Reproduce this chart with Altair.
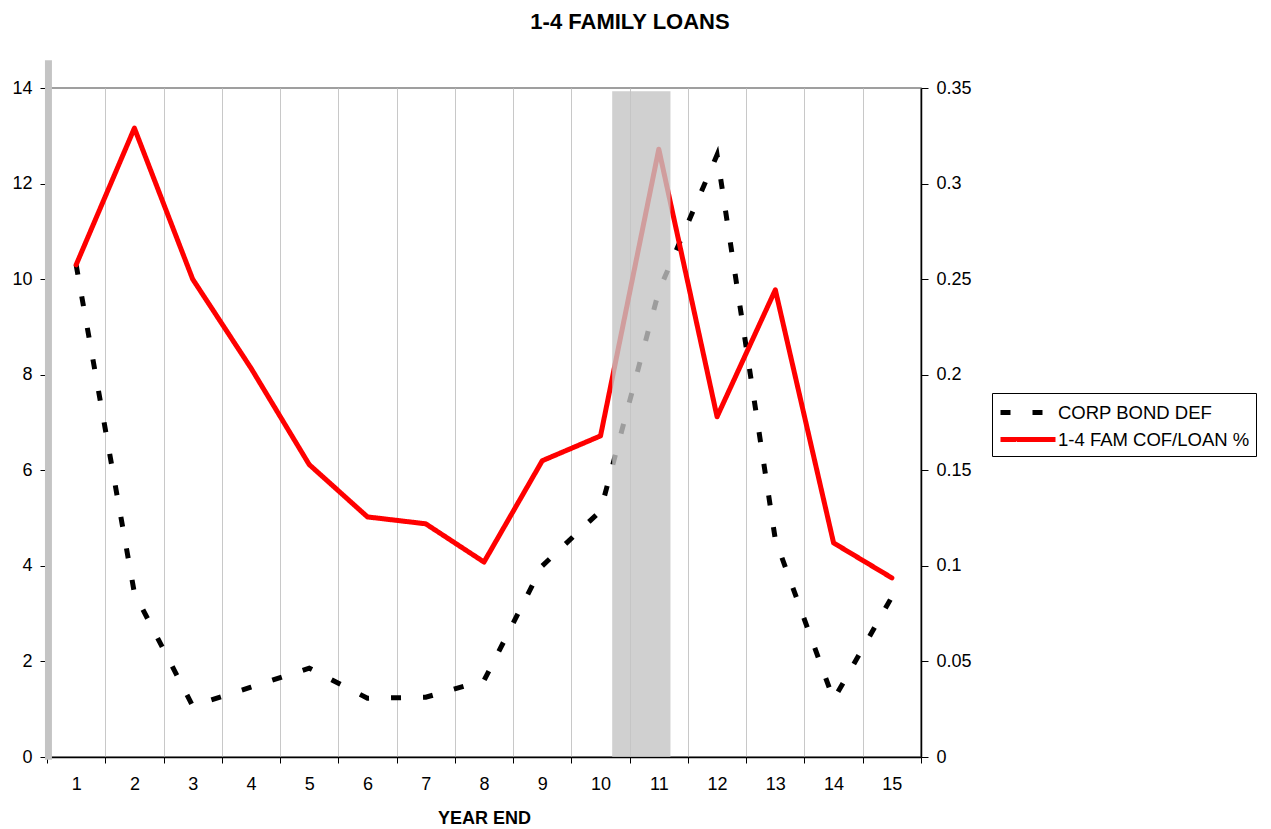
import altair as alt
import pandas as pd

# ---- data ----
years = list(range(1, 16))
corp_bond_def = [10.3, 3.43, 1.07, 1.46, 1.86, 1.23, 1.25, 1.6, 4.0, 5.15, 9.75, 12.6, 4.55, 1.2, 3.35]
fam_cof_loan = [0.2575, 0.329, 0.25, 0.2035, 0.153, 0.1256, 0.122, 0.102, 0.155, 0.168, 0.318, 0.178, 0.2444, 0.112, 0.0937]
series_names = ["CORP BOND DEF", "1-4 FAM COF/LOAN %"]
boundaries = [0.5 + i for i in range(16)]
left_ticks = [0, 2, 4, 6, 8, 10, 12, 14]
right_ticks = [0, 0.05, 0.1, 0.15, 0.2, 0.25, 0.3, 0.35]
shade = {"x1": [10.2], "x2": [11.2], "y1": [0.0], "y2": [13.93]}
stripe = {"x1": [0.465], "x2": [0.585], "y1": [-0.06], "y2": [14.58]}

FONT = "Liberation Sans"

df_black = pd.DataFrame({"year": years, "v": corp_bond_def, "series": series_names[0]})
df_red = pd.DataFrame({"year": years, "v": fam_cof_loan, "series": series_names[1]})
df_bounds = pd.DataFrame({"b": boundaries})
df_shade = pd.DataFrame(shade)
df_stripe = pd.DataFrame(stripe)

xscale = alt.Scale(domain=[0.5, 15.5], nice=False, zero=False)
lscale = alt.Scale(domain=[0, 14], nice=False, zero=False)
rscale = alt.Scale(domain=[0, 0.35], nice=False, zero=False)

color_scale = alt.Scale(domain=series_names, range=["black", "red"])
dash_scale = alt.Scale(domain=series_names, range=[[10, 22], [1, 0]])

legend = alt.Legend(
    orient="none", legendX=945, legendY=305, title=None,
    strokeColor="black", fillColor="white", padding=6,
    labelFont=FONT, labelFontSize=18.5, labelColor="black", labelLimit=400,
    symbolType="M-1,0H4", symbolSize=484, symbolStrokeWidth=5,
    labelOffset=33, rowPadding=3,
)

grid_layer = alt.Chart(df_bounds).mark_point(opacity=0).encode(
    x=alt.X("b:Q", scale=xscale, axis=alt.Axis(
        orient="bottom", values=boundaries, labels=False, ticks=True, tickSize=6,
        tickColor="black", grid=True, gridColor="#c8c8c8", gridWidth=1,
        domain=True, domainColor="black", domainWidth=1.5, title=None)),
)

black_line = alt.Chart(df_black).mark_line(strokeWidth=5, strokeCap="butt").encode(
    x=alt.X("year:Q", scale=xscale, axis=alt.Axis(
        orient="bottom", values=years, ticks=False, tickSize=0, grid=False, domain=False,
        labelFont=FONT, labelFontSize=18, labelColor="black", labelPadding=18,
        title="YEAR END", titleFont=FONT, titleFontSize=18, titleFontWeight="bold",
        titleColor="black", titlePadding=16)),
    y=alt.Y("v:Q", scale=lscale, axis=alt.Axis(
        orient="left", values=left_ticks, tickSize=7, tickColor="black",
        labelFont=FONT, labelFontSize=18, labelColor="black", labelPadding=8,
        grid=False, domain=True, domainColor="#808080", title=None)),
    color=alt.Color("series:N", scale=color_scale, legend=legend),
    strokeDash=alt.StrokeDash("series:N", scale=dash_scale, legend=legend),
)

red_line = alt.Chart(df_red).mark_line(strokeWidth=5, strokeJoin="round", strokeCap="round").encode(
    x=alt.X("year:Q", scale=xscale, axis=None),
    y=alt.Y("v:Q", scale=rscale, axis=alt.Axis(
        orient="right", values=right_ticks, format="~g", tickSize=7, tickColor="black",
        labelFont=FONT, labelFontSize=18, labelColor="black", labelPadding=8,
        grid=False, domain=True, domainColor="black", domainWidth=1.5, title=None)),
    color=alt.Color("series:N", scale=color_scale, legend=legend),
    strokeDash=alt.StrokeDash("series:N", scale=dash_scale, legend=legend),
)

shade_layer = alt.Chart(df_shade).mark_rect(color="#c4c4c4", opacity=0.8).encode(
    x=alt.X("x1:Q", scale=xscale, axis=None), x2="x2:Q",
    y=alt.Y("y1:Q", scale=lscale, axis=None), y2="y2:Q",
)

stripe_layer = alt.Chart(df_stripe).mark_rect(color="#c4c4c4", clip=False).encode(
    x=alt.X("x1:Q", scale=xscale, axis=None), x2="x2:Q",
    y=alt.Y("y1:Q", scale=alt.Scale(domain=[0, 14], nice=False, zero=False, clamp=False), axis=None), y2="y2:Q",
)

chart = alt.layer(grid_layer, black_line, red_line, shade_layer, stripe_layer).resolve_scale(
    y="independent"
).resolve_axis(
    x="independent", y="independent"
).properties(
    width=874, height=669,
    autosize=alt.AutoSizeParams(type="none"),
    padding={"left": 47, "top": 88, "right": 350, "bottom": 72},
    title=alt.TitleParams("1-4 FAMILY LOANS", font=FONT, fontSize=22, fontWeight="bold",
                          color="black", anchor="middle", dx=146, offset=9, baseline="alphabetic"),
    background="white",
).configure_view(stroke="#808080", strokeWidth=1.5)

chart.save("out.html", embed_options={"renderer": "svg", "actions": False})
